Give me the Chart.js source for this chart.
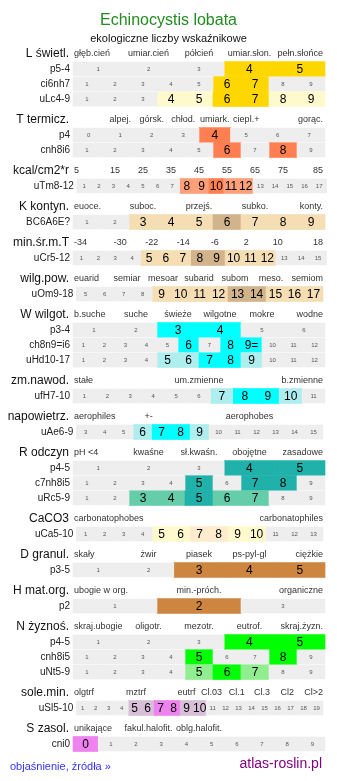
<!DOCTYPE html>
<html>
<head>
<meta charset="utf-8">
<script src="https://cdn.jsdelivr.net/npm/chart.js@4.4.0/dist/chart.umd.min.js"></script>
<style>
  body { margin: 0; background: #fff; font-family: "Liberation Sans", Arial, sans-serif; }
  #wrap { position: relative; width: 337px; height: 781px; }
  #chart { position: absolute; left: 0; top: 0; }
  .txt { position: absolute; white-space: nowrap; }
  #title { left: 0; width: 337px; text-align: center; top: 11px; line-height: 18px; font-size: 16px; color: #228b22; }
  #subtitle { left: 0; width: 337px; text-align: center; top: 31px; line-height: 14px; font-size: 11px; color: #111; }
  #more { left: 10px; top: 759px; line-height: 14px; font-size: 11px; color: #3333ff; text-decoration: none; }
  #site { right: 15px; top: 754px; line-height: 18px; font-size: 14px; color: #800080; text-decoration: none; }
</style>
</head>
<body>
<div id="wrap">
  <canvas id="chart" width="337" height="781"></canvas>
  <div class="txt" id="title">Echinocystis lobata</div>
  <div class="txt" id="subtitle">ekologiczne liczby wskaźnikowe</div>
  <a class="txt" id="more" href="#">objaśnienie, źródła »</a>
  <a class="txt" id="site" href="#">atlas-roslin.pl</a>
</div>
<script>
// sections (scale headers) and the words written above each scale
const sectionTitles = ['L świetl.', 'T termicz.', 'kcal/cm2*r', 'K kontyn.', 'min.śr.m.T', 'wilg.pow.',
  'W wilgot.', 'zm.nawod.', 'napowietrz.', 'R odczyn', 'CaCO3', 'D granul.', 'H mat.org.',
  'N żyznoś.', 'sole.min.', 'S zasol.'];

const sectionTicks = [
  ['głęb.cień', 'umiar.cień', 'półcień', 'umiar.słon.', 'pełn.słońce'],
  ['', 'alpej.', 'górsk.', 'chłod.', 'umiark.', 'ciepl.+', '', 'gorąc.'],
  ['5', '15', '25', '35', '45', '55', '65', '75', '85'],
  ['euoce.', '', 'suboc.', '', 'przejś.', '', 'subko.', '', 'konty.'],
  ['-34', '-30', '-22', '-14', '-6', '2', '10', '18'],
  ['euarid', 'semiar', 'mesoar', 'subarid', 'subom', 'meso.', 'semiom'],
  ['b.suche', 'suche', 'świeże', 'wilgotne', 'mokre', 'wodne'],
  ['stałe', 'um.zmienne', 'b.zmienne'],
  ['aerophiles', '+-', '', 'aerophobes', ''],
  ['pH <4', 'kwaśne', 'sł.kwaśn.', 'obojętne', 'zasadowe'],
  ['carbonatophobes', 'carbonatophiles'],
  ['skały', 'żwir', 'piasek', 'ps-pyl-gl', 'ciężkie'],
  ['ubogie w org.', 'min.-próch.', 'organiczne'],
  ['skraj.ubogie', 'oligotr.', 'mezotr.', 'eutrof.', 'skraj.żyzn.'],
  ['olgtrf', '', 'mztrf', '', 'eutrf', 'Cl.03', 'Cl.1', 'Cl.3', 'Cl2', 'Cl>2'],
  ['unikające', 'fakul.halofit.', 'oblg.halofit.', '', '']
];

// rows of cells: which section, label, first cell value, and level of each cell
// (0 = outside range, 1 = weak, 2 = strong)
const rowSection = [0, 0, 0, 1, 1, 2, 3, 4, 5, 6, 6, 6, 7, 8, 9, 9, 9, 10, 11, 12, 13, 13, 13, 14, 15];
const rowNames = ['p5-4', 'ci6nh7', 'uLc4-9', 'p4', 'cnh8i6', 'uTm8-12', 'BC6A6E?', 'uCr5-12', 'uOm9-18',
  'p3-4', 'ch8n9=i6', 'uHd10-17', 'ufH7-10', 'uAe6-9', 'p4-5', 'c7nh8i5', 'uRc5-9', 'uCa5-10',
  'p3-5', 'p2', 'p4-5', 'cnh8i5', 'uNt5-9', 'uSl5-10', 'cni0'];
const rowFirst = [1, 1, 1, 0, 1, 1, 1, 1, 5, 1, 1, 1, 1, 3, 1, 1, 1, 1, 1, 1, 1, 1, 1, 1, 0];
const rowLevels = [
  '00022',
  '000002200',
  '000112211',
  '00002000',
  '000002020',
  '00000001121100000',
  '001112111',
  '000011122111000',
  '0000111122111',
  '002200',
  '000002022000',
  '000011221000',
  '00000012210',
  '0001221000000',
  '00022',
  '000020220',
  '001121100',
  '0000112211000',
  '00222',
  '020',
  '00022',
  '000020020',
  '000012100',
  '0000112211000000000',
  '2000000000'
];
const markedCells = { 'ch8n9=i6': [9] };   // shown as "9="

// styles
const palette = [
  ['#fffacd', '#ffd700'], ['#ffa07a', '#ff7f50'], ['#ffa07a', '#ff7f50'],
  ['#f5deb3', '#d2b48c'], ['#f5deb3', '#d2b48c'], ['#f5deb3', '#d2b48c'],
  ['#afeeee', '#00ffff'], ['#afeeee', '#00ffff'], ['#afeeee', '#00ffff'],
  ['#66cdaa', '#20b2aa'], ['#fffacd', '#ffebcd'], ['#cd853f', '#cd853f'],
  ['#cd853f', '#cd853f'], ['#90ee90', '#00ff00'], ['#d8bfd8', '#ee82ee'], ['#d8bfd8', '#ee82ee']
];
const rowSpan = { 'uTm8-12': [0.015, 1.006], 'uCr5-12': [0, 1.006], 'uOm9-18': [0.013, 0.992],
  'uAe6-9': [0.013, 0.992], 'uCa5-10': [0.013, 0.992], 'uSl5-10': [0.013, 0.992] };
const FONT = '"Liberation Sans", Arial, sans-serif';
const ROW_PX = 15;

// vertical layout in row units
let pos = 0;
const headerPos = [];
const rowPos = [];
sectionTitles.forEach((t, s) => {
  if (s > 0) pos += 1.4;
  headerPos.push(pos);
  rowNames.forEach((r, i) => {
    if (rowSection[i] === s) { pos += 1; rowPos[i] = pos; }
  });
});

const grayCells = [];
const colorCells = [];
const colorFill = [];
const cellText = [];
rowNames.forEach((name, i) => {
  const lv = rowLevels[i];
  const n = lv.length;
  const [a, b] = rowSpan[name] || [0, 1];
  for (let k = 0; k < n; k++) {
    const x0 = a + (b - a) * k / n;
    const x1 = a + (b - a) * (k + 1) / n;
    const level = +lv[k];
    const v = rowFirst[i] + k;
    const mark = (markedCells[name] || []).includes(v) ? '=' : '';
    if (level === 0) {
      grayCells.push({ x: [x0, x1], y: rowPos[i] });
    } else {
      colorCells.push({ x: [x0, x1], y: rowPos[i] });
      colorFill.push(palette[rowSection[i]][level - 1]);
    }
    cellText.push({ x: (x0 + x1) / 2, y: rowPos[i], text: v + mark, big: level > 0 });
  }
});

const textPlugin = {
  id: 'gridText',
  afterDatasetsDraw(chart) {
    const c = chart.ctx;
    const xs = chart.scales.x;
    const ys = chart.scales.y;
    const left = xs.getPixelForValue(0);
    const right = xs.getPixelForValue(1);
    c.save();
    c.textBaseline = 'middle';

    sectionTitles.forEach((t, s) => {
      const y = ys.getPixelForValue(headerPos[s]);
      c.fillStyle = '#111';
      c.font = '12px ' + FONT;
      c.textAlign = 'right';
      c.fillText(t, left - 4, y);

      const ticks = sectionTicks[s];
      const n = ticks.length;
      c.font = '9px ' + FONT;
      c.fillStyle = '#333';
      ticks.forEach((lab, k) => {
        if (!lab) return;
        if (k === 0) {
          c.textAlign = 'left';
          c.fillText(lab, left + 1, y);
        } else if (k === n - 1) {
          c.textAlign = 'right';
          c.fillText(lab, right - 2, y);
        } else {
          c.textAlign = 'center';
          c.fillText(lab, xs.getPixelForValue((k + 0.5) / n), y);
        }
      });
    });

    rowNames.forEach((name, i) => {
      const a = (rowSpan[name] || [0, 1])[0];
      c.font = '10px ' + FONT;
      c.fillStyle = '#222';
      c.textAlign = 'right';
      c.fillText(name, xs.getPixelForValue(a) - 3, ys.getPixelForValue(rowPos[i]));
    });

    c.textAlign = 'center';
    cellText.forEach(ct => {
      c.font = (ct.big ? '12px ' : '6px ') + FONT;
      c.fillStyle = ct.big ? '#000' : '#555';
      c.fillText(ct.text, xs.getPixelForValue(ct.x), ys.getPixelForValue(ct.y) + 0.5);
    });
    c.restore();
  }
};

new Chart(document.getElementById('chart').getContext('2d'), {
  type: 'bar',
  data: {
    datasets: [
      { data: grayCells, backgroundColor: '#eeeeee', barThickness: ROW_PX - 1, borderWidth: 0, grouped: false, clip: false },
      { data: colorCells, backgroundColor: colorFill, barThickness: ROW_PX, borderWidth: 0, grouped: false, clip: false }
    ]
  },
  options: {
    indexAxis: 'y',
    responsive: false,
    animation: false,
    events: [],
    layout: { padding: { left: 73, right: 12, top: 0, bottom: 0 } },
    scales: {
      x: { type: 'linear', min: 0, max: 1, offset: false, display: false },
      y: { type: 'linear', min: -3.6, max: -3.6 + 781 / ROW_PX, offset: false, reverse: true, display: false }
    },
    plugins: { legend: { display: false }, tooltip: { enabled: false } }
  },
  plugins: [textPlugin]
});
</script>
</body>
</html>
